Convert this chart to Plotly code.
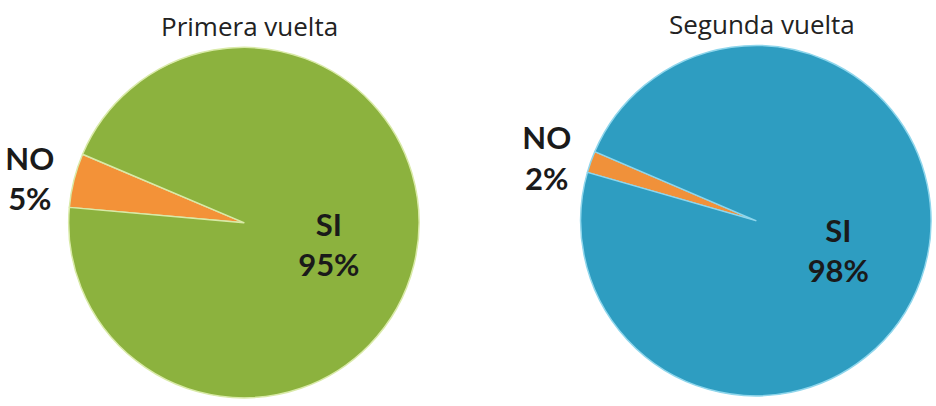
import plotly.graph_objects as go

labels = ["NO", "SI"]
primera_values = [5, 95]
segunda_values = [2, 98]
titles = ["Primera vuelta", "Segunda vuelta"]

fig = go.Figure()

fig.add_trace(go.Pie(
    labels=labels, values=primera_values, sort=False, direction="clockwise",
    rotation=-85,
    marker=dict(colors=["#f39238", "#8cb23e"], line=dict(color="#d9eaa8", width=1.5)),
    texttemplate="<b>%{label}<br>%{percent}</b>",
    textposition=["outside", "inside"],
    textfont=dict(family="Lato", size=31, color="#1a1a1a"),
    domain=dict(x=[50/936, 410/936], y=[0.0, 0.884]),
    showlegend=False, hoverinfo="label+percent",
))

fig.add_trace(go.Pie(
    labels=labels, values=segunda_values, sort=False, direction="clockwise",
    rotation=-74,
    marker=dict(colors=["#f0913a", "#2e9dc1"], line=dict(color="#8fd6ec", width=1.5)),
    texttemplate="<b>%{label}<br>%{percent}</b>",
    textposition=["outside", "inside"],
    textfont=dict(family="Lato", size=31, color="#1a1a1a"),
    domain=dict(x=[576/936, 1.0], y=[0.0, 0.894]),
    showlegend=False, hoverinfo="label+percent",
))

fig.add_annotation(x=236/936, y=1 - 26/406, xref="paper", yref="paper",
                   xanchor="center", yanchor="middle",
                   text=titles[0], showarrow=False,
                   font=dict(family="Open Sans", size=26, color="#222222"))
fig.add_annotation(x=762/936, y=1 - 24/406, xref="paper", yref="paper",
                   xanchor="center", yanchor="middle",
                   text=titles[1], showarrow=False,
                   font=dict(family="Open Sans", size=26, color="#222222"))

fig.update_layout(
    width=936, height=406,
    margin=dict(l=0, r=0, t=0, b=0),
    paper_bgcolor="white", plot_bgcolor="white",
)

fig.write_html("out.html")
